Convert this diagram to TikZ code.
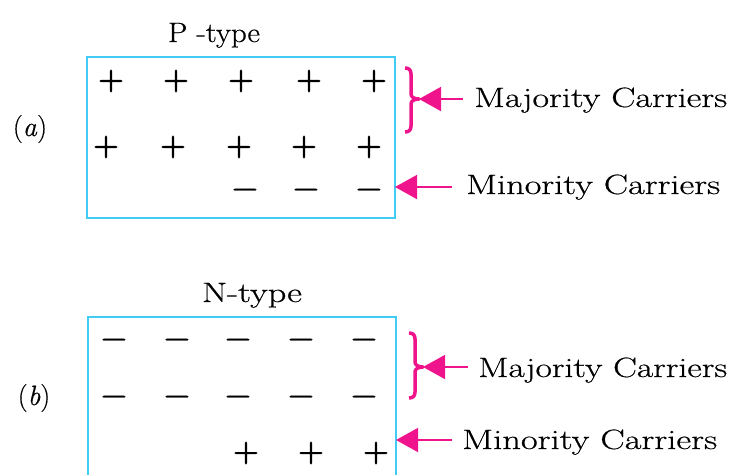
\documentclass[tikz,border=0pt]{standalone}
\usepackage{fontspec}
\usepackage{graphicx}
\usetikzlibrary{arrows.meta}
\definecolor{boxcyan}{RGB}{64,204,244}
\definecolor{hotpink}{RGB}{240,20,140}
\newcommand{\fitw}[2]{\resizebox{#1pt}{\height}{#2}}
\newfontfamily\symfont[FakeBold=1.2]{Latin Modern Roman}
\newfontfamily\lblfont[FakeBold=0.5]{Latin Modern Roman}
\tikzset{
 sym/.style={inner sep=0pt, font=\fontsize{30}{30}\symfont\bfseries},
 lbl/.style={inner sep=0pt, anchor=base west, font=\fontsize{28}{32}\lblfont},
 ttl/.style={inner sep=0pt, anchor=base, font=\fontsize{28}{32}\lblfont},
 tag/.style={inner sep=0pt, font=\fontsize{28}{32}\lblfont},
 semibox/.style={draw=boxcyan, line width=2pt, inner sep=0pt, anchor=north west},
 brc/.style={draw=hotpink, line width=3.5pt, line join=round},
 parr/.style={draw=hotpink, line width=1.6pt, -{Triangle[length=22pt,width=24pt]}},
}
\begin{document}
\begin{tikzpicture}[x=1pt,y=-1pt]
\useasboundingbox (0,0) rectangle (730,474);
% ---------- (a) P-type ----------
\node[semibox, minimum width=308pt, minimum height=161pt] (boxA) at (86,56) {};
\node[ttl] (ttlA) at (214,42) {\fitw{92}{P -type}};
\node[tag] (tagA) at (30,129) {(\textit{a})};
\node[sym] (pa1) at (111,81) {+};
\node[sym] (pa2) at (176,81) {+};
\node[sym] (pa3) at (241,81) {+};
\node[sym] (pa4) at (309,81) {+};
\node[sym] (pa5) at (374,81) {+};
\node[sym] (pb1) at (106,147) {+};
\node[sym] (pb2) at (173,147) {+};
\node[sym] (pb3) at (239,147) {+};
\node[sym] (pb4) at (304,147) {+};
\node[sym] (pb5) at (369,147) {+};
\node[sym] (ma1) at (245,193) {−};
\node[sym] (ma2) at (306,193) {−};
\node[sym] (ma3) at (369,193) {−};
\coordinate (braceA) at (419,99);
\draw[brc] (405,68) .. controls (409,68) and (411,70) .. (411,74)
  -- (411,94) .. controls (411,97) and (414,99) .. (braceA)
  .. controls (414,99) and (411,101) .. (411,104)
  -- (411,126) .. controls (411,130) and (409,132) .. (405,132);
\coordinate (startA) at (463,99);
\draw[parr] (startA) -- (braceA);
\node[lbl] (majA) at (474,107) {\fitw{253}{Majority Carriers}};
\coordinate (tipA) at (395,187);
\coordinate (startA2) at (452,187);
\draw[parr] (startA2) -- (tipA);
\node[lbl] (minA) at (466,194) {\fitw{254}{Minority Carriers}};
% ---------- (b) N-type ----------
\node[semibox, minimum width=308pt, minimum height=170pt] (boxB) at (87,316) {};
\node[ttl] (ttlB) at (252,302) {\fitw{100}{N-type}};
\node[tag] (tagB) at (34,398) {(\textit{b})};
\node[sym] (na1) at (114,343) {−};
\node[sym] (na2) at (177,343) {−};
\node[sym] (na3) at (238,343) {−};
\node[sym] (na4) at (301,343) {−};
\node[sym] (na5) at (364,343) {−};
\node[sym] (nb1) at (114,400) {−};
\node[sym] (nb2) at (177,400) {−};
\node[sym] (nb3) at (238,400) {−};
\node[sym] (nb4) at (301,400) {−};
\node[sym] (nb5) at (364,400) {−};
\node[sym] (qa1) at (246,453) {+};
\node[sym] (qa2) at (311,453) {+};
\node[sym] (qa3) at (376,453) {+};
\coordinate (braceB) at (423,367);
\draw[brc] (409,333) .. controls (413,333) and (415,335) .. (415,339)
  -- (415,362) .. controls (415,365) and (418,367) .. (braceB)
  .. controls (418,367) and (415,369) .. (415,372)
  -- (415,392) .. controls (415,396) and (413,398) .. (409,398);
\coordinate (startB) at (468,367);
\draw[parr] (startB) -- (braceB);
\node[lbl] (majB) at (478,377) {\fitw{249}{Majority Carriers}};
\coordinate (tipB) at (396,440);
\coordinate (startB2) at (452,440);
\draw[parr] (startB2) -- (tipB);
\node[lbl] (minB) at (462,449) {\fitw{255}{Minority Carriers}};
\end{tikzpicture}
\end{document}
